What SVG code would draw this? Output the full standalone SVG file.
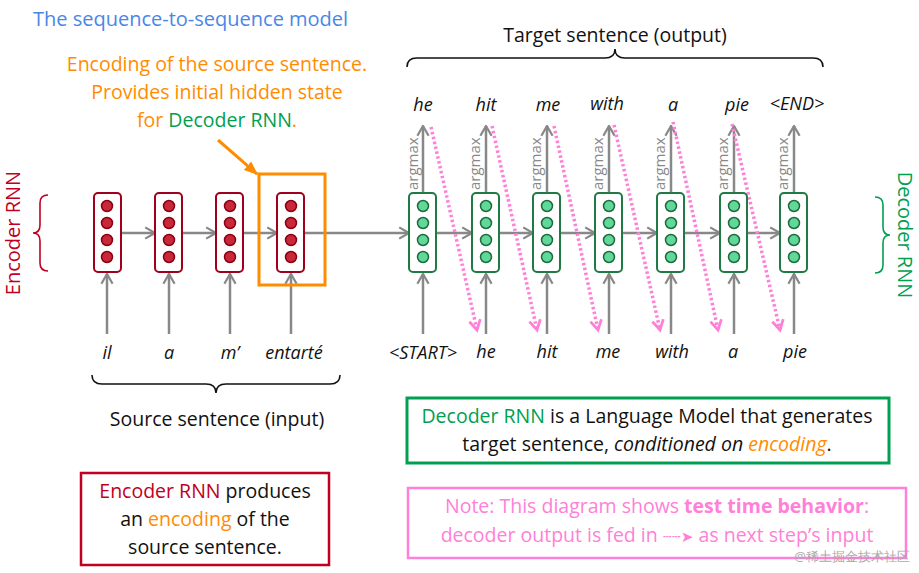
<svg xmlns="http://www.w3.org/2000/svg" width="919" height="573" viewBox="0 0 919 573">
<style>
text{font-family:"Open Sans","DejaVu Sans",sans-serif;}
.w{font-size:18px;font-style:italic;fill:#111;text-anchor:middle}
.am{font-size:15px;fill:#888}
.enc{fill:#fff;stroke:#a0001c;stroke-width:2}
.ec{fill:#c8283a;stroke:#8a0010;stroke-width:1.5}
.dec{fill:#fff;stroke:#1f7a44;stroke-width:2}
.dc{fill:#5fd89a;stroke:#1f6a3a;stroke-width:1.5}
.ar{stroke:#888;stroke-width:2.5;fill:none;marker-end:url(#ga)}
.pk{stroke:#ff80d8;stroke-width:3.5;stroke-dasharray:2.5 2.5;fill:none;marker-end:url(#pa)}
.br{fill:none;stroke-width:1.6}
.t{font-size:19.5px;fill:#111;text-anchor:middle}
</style>
<defs>
<marker id="ga" viewBox="0 0 10 10" refX="9" refY="5" markerWidth="14" markerHeight="14" orient="auto" markerUnits="userSpaceOnUse"><path d="M2 1L9 5L2 9" fill="none" stroke="#888" stroke-width="1.6"/></marker>
<marker id="pa" viewBox="0 0 10 10" refX="8" refY="5" markerWidth="14" markerHeight="14" orient="auto" markerUnits="userSpaceOnUse"><path d="M1 1L8 5L1 9" fill="none" stroke="#ff80d8" stroke-width="2"/></marker>
<marker id="oa" viewBox="0 0 10 10" refX="9" refY="5" markerWidth="14" markerHeight="14" orient="auto" markerUnits="userSpaceOnUse"><path d="M0 1L10 5L0 9Z" fill="#ff8c00"/></marker>
</defs>
<text x="33" y="26" font-size="20" fill="#4a86e8">The sequence-to-sequence model</text>
<text x="217" y="71" font-size="19.5" fill="#ff8c00" text-anchor="middle">Encoding of the source sentence.</text>
<text x="217" y="99" font-size="19.5" fill="#ff8c00" text-anchor="middle">Provides initial hidden state</text>
<text x="217" y="127" font-size="19.5" text-anchor="middle"><tspan fill="#ff8c00">for </tspan><tspan fill="#00a050">Decoder RNN</tspan><tspan fill="#ff8c00">.</tspan></text>
<text x="615" y="42" class="t">Target sentence (output)</text>
<text x="217" y="426" class="t">Source sentence (input)</text>
<text transform="translate(20,233) rotate(-90)" font-size="20" fill="#c00020" text-anchor="middle">Encoder RNN</text>
<text transform="translate(898,235) rotate(90)" font-size="20" fill="#00a050" text-anchor="middle">Decoder RNN</text>
<g id="braces">
<path class="br" stroke="#c00020" d="M48 195 Q40 195 40 203 L40 225 Q40 233 33 233 Q40 233 40 241 L40 263 Q40 271 48 271"/>
<path class="br" stroke="#00a050" d="M875 197 Q883 197 883 205 L883 227 Q883 235 890 235 Q883 235 883 243 L883 265 Q883 273 875 273"/>
<path class="br" stroke="#111" d="M407 67 Q407 58 417 58 L605 58 Q615 58 615 49 Q615 58 625 58 L813 58 Q823 58 823 67"/>
<path class="br" stroke="#111" d="M92 375 Q92 384 102 384 L206 384 Q216 384 216 393 Q216 384 226 384 L330 384 Q340 384 340 375"/>
</g>
<g id="connectors">
<line class="ar" x1="120" y1="233" x2="155" y2="233"/>
<line class="ar" x1="182" y1="233" x2="216" y2="233"/>
<line class="ar" x1="243" y1="233" x2="277" y2="233"/>
<line class="ar" x1="304" y1="233" x2="409" y2="233"/>
<line class="ar" x1="436" y1="233" x2="472" y2="233"/>
<line class="ar" x1="499" y1="233" x2="533" y2="233"/>
<line class="ar" x1="560" y1="233" x2="595" y2="233"/>
<line class="ar" x1="622" y1="233" x2="657" y2="233"/>
<line class="ar" x1="684" y1="233" x2="720" y2="233"/>
<line class="ar" x1="747" y1="233" x2="780" y2="233"/>
<line class="ar" x1="107" y1="334" x2="107" y2="274"/>
<line class="ar" x1="169" y1="334" x2="169" y2="274"/>
<line class="ar" x1="230" y1="334" x2="230" y2="274"/>
<line class="ar" x1="291" y1="334" x2="291" y2="274"/>
<line class="ar" x1="423" y1="334" x2="423" y2="274"/>
<line class="ar" x1="486" y1="334" x2="486" y2="274"/>
<line class="ar" x1="547" y1="334" x2="547" y2="274"/>
<line class="ar" x1="609" y1="334" x2="609" y2="274"/>
<line class="ar" x1="671" y1="334" x2="671" y2="274"/>
<line class="ar" x1="734" y1="334" x2="734" y2="274"/>
<line class="ar" x1="794" y1="334" x2="794" y2="274"/>
<line class="ar" x1="423" y1="193" x2="423" y2="126"/>
<line class="ar" x1="486" y1="193" x2="486" y2="126"/>
<line class="ar" x1="547" y1="193" x2="547" y2="126"/>
<line class="ar" x1="609" y1="193" x2="609" y2="126"/>
<line class="ar" x1="671" y1="193" x2="671" y2="126"/>
<line class="ar" x1="734" y1="193" x2="734" y2="126"/>
<line class="ar" x1="794" y1="193" x2="794" y2="126"/>
<line class="pk" x1="431" y1="127" x2="477" y2="330"/>
<line class="pk" x1="492" y1="126" x2="537" y2="330"/>
<line class="pk" x1="554" y1="126" x2="598" y2="330"/>
<line class="pk" x1="614" y1="125" x2="660" y2="330"/>
<line class="pk" x1="673" y1="122" x2="718" y2="330"/>
<line class="pk" x1="732" y1="124" x2="780" y2="330"/>
<line x1="218" y1="140" x2="257" y2="174" stroke="#ff8c00" stroke-width="3" marker-end="url(#oa)"/>
</g>
<g id="argmax">
<text class="am" transform="translate(418,190) rotate(-90)">argmax</text>
<text class="am" transform="translate(480,190) rotate(-90)">argmax</text>
<text class="am" transform="translate(541,190) rotate(-90)">argmax</text>
<text class="am" transform="translate(603,190) rotate(-90)">argmax</text>
<text class="am" transform="translate(665,190) rotate(-90)">argmax</text>
<text class="am" transform="translate(728,190) rotate(-90)">argmax</text>
<text class="am" transform="translate(788,190) rotate(-90)">argmax</text>
</g>
<rect id="encoding-highlight" x="259" y="174" width="66" height="111" fill="none" stroke="#ff8c00" stroke-width="3"/>
<g id="enc1"><rect class="enc" x="94" y="193" width="27" height="79" rx="4"/><circle class="ec" cx="107" cy="206" r="5.5"/><circle class="ec" cx="107" cy="223" r="5.5"/><circle class="ec" cx="107" cy="240" r="5.5"/><circle class="ec" cx="107" cy="257" r="5.5"/></g>
<g id="enc2"><rect class="enc" x="155" y="193" width="27" height="79" rx="4"/><circle class="ec" cx="169" cy="206" r="5.5"/><circle class="ec" cx="169" cy="223" r="5.5"/><circle class="ec" cx="169" cy="240" r="5.5"/><circle class="ec" cx="169" cy="257" r="5.5"/></g>
<g id="enc3"><rect class="enc" x="216" y="193" width="27" height="79" rx="4"/><circle class="ec" cx="230" cy="206" r="5.5"/><circle class="ec" cx="230" cy="223" r="5.5"/><circle class="ec" cx="230" cy="240" r="5.5"/><circle class="ec" cx="230" cy="257" r="5.5"/></g>
<g id="enc4"><rect class="enc" x="277" y="193" width="27" height="79" rx="4"/><circle class="ec" cx="291" cy="206" r="5.5"/><circle class="ec" cx="291" cy="223" r="5.5"/><circle class="ec" cx="291" cy="240" r="5.5"/><circle class="ec" cx="291" cy="257" r="5.5"/></g>
<g id="dec1"><rect class="dec" x="409" y="193" width="27" height="79" rx="4"/><circle class="dc" cx="423" cy="206" r="5.5"/><circle class="dc" cx="423" cy="223" r="5.5"/><circle class="dc" cx="423" cy="240" r="5.5"/><circle class="dc" cx="423" cy="257" r="5.5"/></g>
<g id="dec2"><rect class="dec" x="472" y="193" width="27" height="79" rx="4"/><circle class="dc" cx="486" cy="206" r="5.5"/><circle class="dc" cx="486" cy="223" r="5.5"/><circle class="dc" cx="486" cy="240" r="5.5"/><circle class="dc" cx="486" cy="257" r="5.5"/></g>
<g id="dec3"><rect class="dec" x="533" y="193" width="27" height="79" rx="4"/><circle class="dc" cx="547" cy="206" r="5.5"/><circle class="dc" cx="547" cy="223" r="5.5"/><circle class="dc" cx="547" cy="240" r="5.5"/><circle class="dc" cx="547" cy="257" r="5.5"/></g>
<g id="dec4"><rect class="dec" x="595" y="193" width="27" height="79" rx="4"/><circle class="dc" cx="609" cy="206" r="5.5"/><circle class="dc" cx="609" cy="223" r="5.5"/><circle class="dc" cx="609" cy="240" r="5.5"/><circle class="dc" cx="609" cy="257" r="5.5"/></g>
<g id="dec5"><rect class="dec" x="657" y="193" width="27" height="79" rx="4"/><circle class="dc" cx="671" cy="206" r="5.5"/><circle class="dc" cx="671" cy="223" r="5.5"/><circle class="dc" cx="671" cy="240" r="5.5"/><circle class="dc" cx="671" cy="257" r="5.5"/></g>
<g id="dec6"><rect class="dec" x="720" y="193" width="27" height="79" rx="4"/><circle class="dc" cx="734" cy="206" r="5.5"/><circle class="dc" cx="734" cy="223" r="5.5"/><circle class="dc" cx="734" cy="240" r="5.5"/><circle class="dc" cx="734" cy="257" r="5.5"/></g>
<g id="dec7"><rect class="dec" x="780" y="193" width="27" height="79" rx="4"/><circle class="dc" cx="794" cy="206" r="5.5"/><circle class="dc" cx="794" cy="223" r="5.5"/><circle class="dc" cx="794" cy="240" r="5.5"/><circle class="dc" cx="794" cy="257" r="5.5"/></g>
<g id="words">
<text class="w" x="107" y="359">il</text><text class="w" x="169" y="359">a</text><text class="w" x="230" y="359">m’</text><text class="w" x="294" y="359">entarté</text>
<text class="w" x="423" y="359">&lt;START&gt;</text><text class="w" x="486" y="358">he</text><text class="w" x="547" y="358">hit</text><text class="w" x="608" y="358">me</text><text class="w" x="672" y="358">with</text><text class="w" x="733" y="358">a</text><text class="w" x="795" y="358">pie</text>
<text class="w" x="423" y="111">he</text><text class="w" x="486" y="111">hit</text><text class="w" x="548" y="111">me</text><text class="w" x="607" y="110">with</text><text class="w" x="673" y="111">a</text><text class="w" x="737" y="111">pie</text><text class="w" x="797" y="110">&lt;END&gt;</text>
</g>
<g id="decoder-note">
<rect x="407" y="398" width="482" height="65" fill="#fff" stroke="#00a050" stroke-width="3"/>
<text x="647" y="423" class="t"><tspan fill="#00a050">Decoder RNN</tspan> is a Language Model that generates</text>
<text x="647" y="451" class="t">target sentence, <tspan font-style="italic">conditioned on </tspan><tspan font-style="italic" fill="#ff8c00">encoding</tspan>.</text>
</g>
<g id="encoder-note">
<rect x="81" y="473" width="248" height="92" fill="#fff" stroke="#c00020" stroke-width="2.5"/>
<text x="205" y="498" class="t"><tspan fill="#c00020">Encoder RNN</tspan> produces</text>
<text x="205" y="526" class="t">an <tspan fill="#ff8c00">encoding</tspan> of the</text>
<text x="205" y="554" class="t">source sentence.</text>
</g>
<g id="test-note">
<rect x="408" y="488" width="498" height="70" fill="#fff" stroke="#ff80d8" stroke-width="2.5"/>
<text x="657" y="513" class="t" style="fill:#ff80d8">Note: This diagram shows <tspan font-weight="bold">test time behavior</tspan>:</text>
<text x="657" y="542" class="t" style="fill:#ff80d8">decoder output is fed in <tspan font-size="15">┄┄➤</tspan> as next step’s input</text>
</g>
<text x="910" y="561" font-size="13" fill="#aaa" text-anchor="end" font-family="'Noto Sans CJK SC',sans-serif">@稀土掘金技术社区</text>
</svg>
